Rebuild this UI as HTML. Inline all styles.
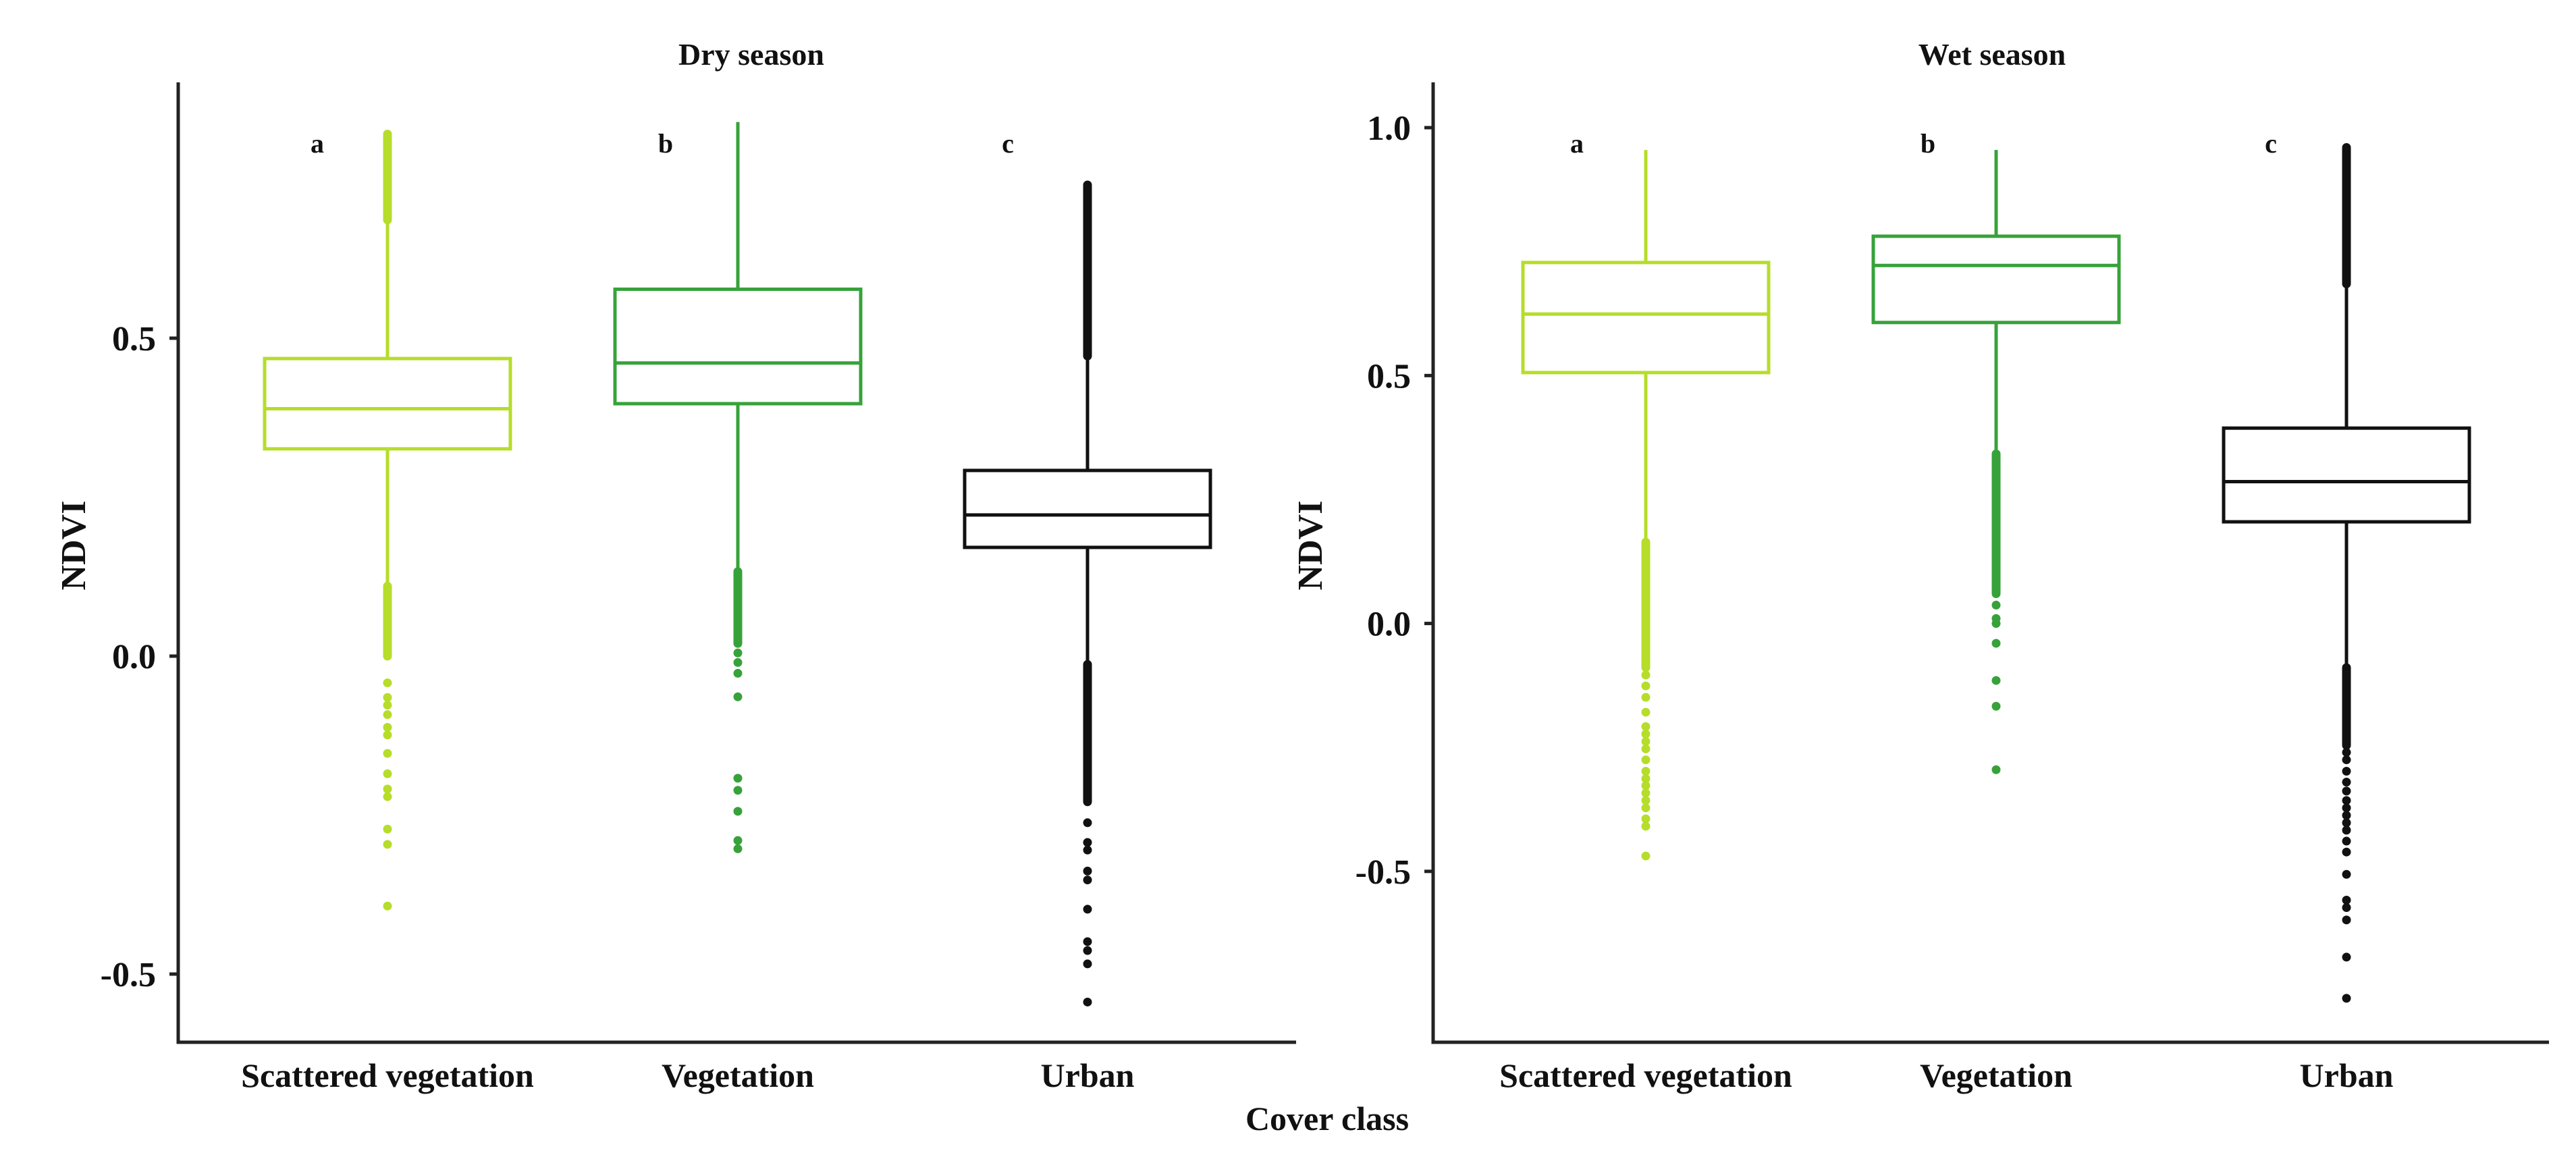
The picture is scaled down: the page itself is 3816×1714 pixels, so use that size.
<!DOCTYPE html>
<html><head><meta charset="utf-8"><style>
html,body{margin:0;padding:0;background:#fff;}
svg{display:block;font-family:"Liberation Serif",serif;font-weight:bold;}
</style></head><body>
<svg id="chart" width="3816" height="1714" viewBox="0 0 3816 1714"></svg>
<script>
const categories = ["Scattered vegetation","Vegetation","Urban"];
const colors = ["#b6dd2a","#37a23a","#111111"];
const letters = ["a","b","c"];
// Dry season stats [q1, median, q3, lowerWhisker, upperWhisker]
const dryStats = [[0.326,0.389,0.468,0.11,0.686],[0.397,0.461,0.577,0.133,0.84],[0.171,0.222,0.292,-0.013,0.472]];
const dryDense = [[[0.0,0.11],[0.686,0.821]],[[0.02,0.133]],[[-0.229,-0.013],[0.472,0.741]]];
const dryOutliers = [
 [-0.042,-0.065,-0.077,-0.092,-0.112,-0.124,-0.153,-0.185,-0.209,-0.221,-0.272,-0.296,-0.393],
 [0.005,-0.01,-0.027,-0.064,-0.192,-0.211,-0.244,-0.29,-0.303],
 [-0.262,-0.293,-0.305,-0.338,-0.352,-0.398,-0.449,-0.463,-0.484,-0.544]];
// Wet season
const wetStats = [[0.506,0.624,0.728,0.164,0.955],[0.607,0.722,0.781,0.342,0.955],[0.205,0.286,0.394,-0.089,0.685]];
const wetDense = [[[-0.089,0.164]],[[0.06,0.342]],[[-0.246,-0.089],[0.685,0.96]]];
const wetOutliers = [
 [-0.104,-0.126,-0.149,-0.179,-0.208,-0.223,-0.238,-0.253,-0.275,-0.298,-0.313,-0.327,-0.342,-0.357,-0.372,-0.394,-0.409,-0.469],
 [0.037,0.01,0.0,-0.04,-0.115,-0.167,-0.295],
 [-0.26,-0.275,-0.298,-0.32,-0.338,-0.357,-0.372,-0.387,-0.402,-0.417,-0.439,-0.461,-0.506,-0.558,-0.573,-0.598,-0.673,-0.756]];
const dryTicks = [0.5,0.0,-0.5];
const dryTickLabels = ["0.5","0.0","-0.5"];
const wetTicks = [1.0,0.5,0.0,-0.5];
const wetTickLabels = ["1.0","0.5","0.0","-0.5"];

const svg = document.getElementById('chart');
const NS = "http://www.w3.org/2000/svg";
function mk(tag, attrs, parent){const e=document.createElementNS(NS,tag);for(const k in attrs)e.setAttribute(k,attrs[k]);(parent||svg).appendChild(e);return e;}

const panels = [
 {title:"Dry season", key:"dry", ax:264, right:1920, y0:972, ppu:942, centers:[574,1093,1611], letterX:[470,986,1493], stats:dryStats, dense:dryDense, out:dryOutliers, ticks:dryTicks, labels:dryTickLabels, titleX:1113, ylabX:108},
 {title:"Wet season", key:"wet", ax:2123, right:3776, y0:923.6, ppu:734.5, centers:[2438,2957,3476], letterX:[2336,2856,3364], stats:wetStats, dense:wetDense, out:wetOutliers, ticks:wetTicks, labels:wetTickLabels, titleX:2951, ylabX:1940}
];
const TOP=122, BOTTOM=1544, BW=364;

panels.forEach(p=>{
  const y = v => p.y0 - v*p.ppu;
  const g = mk('g',{});
  
  
  const t = mk('text',{x:p.titleX,y:96,'text-anchor':'middle','font-size':46,fill:'#111'},g);
  t.textContent=p.title;
  
  
  const ya = mk('line',{x1:p.ax,y1:TOP,x2:p.ax,y2:BOTTOM+2.5,stroke:'#222','stroke-width':5},g);
  
  
  const xa = mk('line',{x1:p.ax-2.5,y1:BOTTOM,x2:p.right,y2:BOTTOM,stroke:'#222','stroke-width':5},g);
  
  
  p.ticks.forEach((v,i)=>{
    const tk = mk('line',{x1:p.ax-13,y1:y(v),x2:p.ax,y2:y(v),stroke:'#222','stroke-width':5},g);
    
    
    const tl = mk('text',{x:p.ax-33,y:y(v)+18,'text-anchor':'end','font-size':52,fill:'#111'},g);
    tl.textContent=p.labels[i];
    
    
  });
  const yl = mk('text',{x:0,y:0,'text-anchor':'middle','font-size':52,fill:'#111',transform:`translate(${p.ylabX+18},${(TOP+BOTTOM)/2-25}) rotate(-90)`},g);
  yl.textContent="NDVI";
  
  
  categories.forEach((c,i)=>{
    const cx=p.centers[i], col=colors[i], s=p.stats[i];
    const cl = mk('text',{x:cx,y:1610,'text-anchor':'middle','font-size':50,fill:'#111'},g);
    cl.textContent=c;
    
    
    const lt = mk('text',{x:p.letterX[i],y:226,'text-anchor':'middle','font-size':40,fill:'#111'},g);
    lt.textContent=letters[i];
    
    
    const w1 = mk('line',{x1:cx,y1:y(s[2]),x2:cx,y2:y(s[4]),stroke:col,'stroke-width':5},g);
    
    
    const w2 = mk('line',{x1:cx,y1:y(s[0]),x2:cx,y2:y(s[3]),stroke:col,'stroke-width':5},g);
    
    
    const bx = mk('rect',{x:cx-BW/2,y:y(s[2]),width:BW,height:y(s[0])-y(s[2]),fill:'#fff',stroke:col,'stroke-width':5},g);
    
    
    const md = mk('line',{x1:cx-BW/2,y1:y(s[1]),x2:cx+BW/2,y2:y(s[1]),stroke:col,'stroke-width':5},g);
    
    
    p.dense[i].forEach(r=>{
      const dl = mk('line',{x1:cx,y1:y(r[0]),x2:cx,y2:y(r[1]),stroke:col,'stroke-width':13,'stroke-linecap':'round'},g);
      
      
    });
    p.out[i].forEach(v=>{
      const o = mk('circle',{cx:cx,cy:y(v),r:6.5,fill:col},g);
      
      
    });
  });
});
const xt = mk('text',{x:1966,y:1674,'text-anchor':'middle','font-size':50,fill:'#111'});
xt.textContent="Cover class";


</script>
</body></html>
